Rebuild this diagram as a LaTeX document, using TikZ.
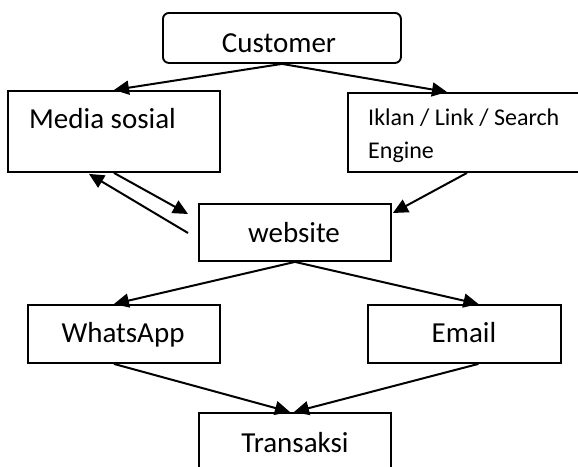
\documentclass[tikz,border=0pt]{standalone}
\usepackage{fontspec}
\setmainfont{Carlito}
\usetikzlibrary{arrows.meta,calc}

\tikzset{
  box/.style={draw, line width=1.9pt, rectangle, inner sep=0pt, anchor=north west},
  roundbox/.style={box, rounded corners=6pt},
  lbl/.style={inner sep=0pt, font=\fontsize{29}{35}\selectfont},
  smalllbl/.style={inner sep=0pt, font=\fontsize{24}{33}\selectfont},
  flow/.style={line width=2pt, -{Triangle[length=15pt,width=14pt]}},
}

\begin{document}
\begin{tikzpicture}[x=1pt, y=-1pt]
\useasboundingbox (0,0) rectangle (578,466);
\clip (0,0) rectangle (578,466);

% boxes
\node[roundbox, minimum width=238pt, minimum height=50pt] (cust) at (162,12) {};
\node[box, minimum width=212pt, minimum height=81pt] (media) at (7,90) {};
\node[box, minimum width=260pt, minimum height=79pt] (iklan) at (347,92) {};
\node[box, minimum width=192pt, minimum height=57pt] (web) at (198,203) {};
\node[box, minimum width=192pt, minimum height=58pt] (wa) at (27,304) {};
\node[box, minimum width=193pt, minimum height=58pt] (mail) at (367,304) {};
\node[box, minimum width=192pt, minimum height=80pt] (trans) at (198,412) {};

% labels
\node[lbl, anchor=base] (tcust) at (279,52) {Customer};
\node[lbl, anchor=base west] (tmedia) at (29,128) {Media sosial};
\node[smalllbl, anchor=base west] (tiklan1) at (368,125) {Iklan / Link / Search};
\node[smalllbl, anchor=base west] (tiklan2) at (368,158) {Engine};
\node[lbl, anchor=base] (tweb) at (294,242) {website};
\node[lbl, anchor=base] (twa) at (123,342) {WhatsApp};
\node[lbl, anchor=base] (tmail) at (464,342) {Email};
\node[lbl, anchor=base] (ttrans) at (295,452) {Transaksi};

% connectors
\coordinate (back) at ($(web.north west)+(-10,30)$);
\draw[flow] (cust.south) -- (media.north);
\draw[flow] (cust.south) -- ($(iklan.north west)+(100,0)$);
\draw[flow] ($(iklan.south west)+(120,0)$) -- ($(web.north east)+(1,10)$);
\draw[flow] (media.south) -- ($(web.north west)+(-10,11)$);
\draw[flow] (back) -- ($(media.south)+(-25,1)$);
\draw[flow] (web.south) -- ($(wa.north)+(-10,0)$);
\draw[flow] (web.south) -- ($(mail.north)+(14,0)$);
\draw[flow] ($(wa.south)+(-10,0)$) -- ($(trans.north)+(-5,0)$);
\draw[flow] ($(mail.south)+(14,0)$) -- ($(trans.north)+(-1,0)$);
\end{tikzpicture}
\end{document}
